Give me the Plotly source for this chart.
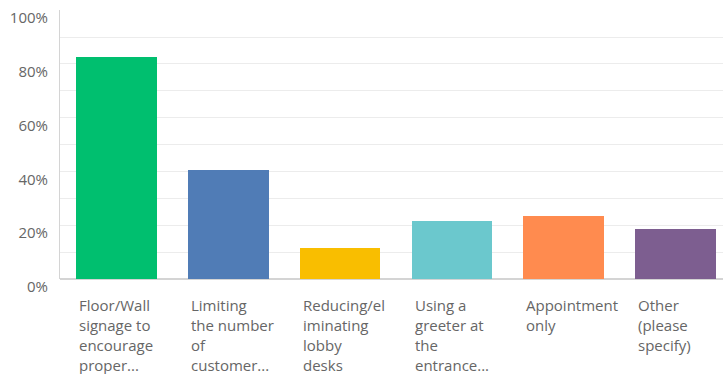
import plotly.graph_objects as go

# Survey answers (wrapped label lines) and share of respondents
categories = [
    ["Floor/Wall", "signage to", "encourage", "proper..."],
    ["Limiting", "the number", "of", "customer..."],
    ["Reducing/el", "iminating", "lobby", "desks"],
    ["Using a", "greeter at", "the", "entrance..."],
    ["Appointment", "only"],
    ["Other", "(please", "specify)"],
]
shares = [0.826, 0.407, 0.117, 0.215, 0.236, 0.187]
colors = ["#00BF6F", "#507CB6", "#F9BE00", "#6BC8CD", "#FF8B4F", "#7D5E90"]
y_ticks = [0, 0.2, 0.4, 0.6, 0.8, 1.0]
y_tick_text = ["0%", "20%", "40%", "60%", "80%", "100%"]

FONT = "Open Sans"
TEXT_COLOR = "#666666"
BAR_WIDTH = 0.72

x_idx = list(range(len(shares)))

fig = go.Figure(
    go.Bar(
        x=x_idx,
        y=shares,
        width=BAR_WIDTH,
        marker=dict(color=colors, line=dict(width=0)),
        hoverinfo="skip",
    )
)

# Left-aligned, wrapped category labels under each bar
LINE_GAP = 20.0
for i, lines in enumerate(categories):
    for k, line in enumerate(lines):
        fig.add_annotation(
            x=i - BAR_WIDTH / 2,
            xref="x",
            y=0,
            yref="paper",
            text=line,
            showarrow=False,
            xanchor="left",
            yanchor="middle",
            xshift=1,
            yshift=-(26 + k * LINE_GAP),
            font=dict(family=FONT, size=15, color=TEXT_COLOR),
        )

fig.update_layout(
    width=723,
    height=374,
    margin=dict(l=60, r=0, t=10, b=95),
    paper_bgcolor="white",
    plot_bgcolor="white",
    showlegend=False,
    bargap=0,
    xaxis=dict(
        range=[-0.505, 5.425],
        showticklabels=False,
        showgrid=False,
        zeroline=False,
        showline=False,
        ticks="",
        fixedrange=True,
    ),
    yaxis=dict(
        range=[0, 1.0005],
        tickvals=y_ticks,
        ticktext=y_tick_text,
        showgrid=True,
        gridcolor="#ececec",
        gridwidth=1,
        minor=dict(dtick=0.1, showgrid=True, gridcolor="#ececec", gridwidth=1),
        zeroline=True,
        zerolinecolor="#d4d4d4",
        zerolinewidth=2,
        showline=True,
        linecolor="#d4d4d4",
        linewidth=1,
        ticks="",
        ticklabelstandoff=8,
        ticklabelshift=8,
        tickfont=dict(family=FONT, size=15, color=TEXT_COLOR),
        fixedrange=True,
    ),
)

fig.write_html("out.html")
